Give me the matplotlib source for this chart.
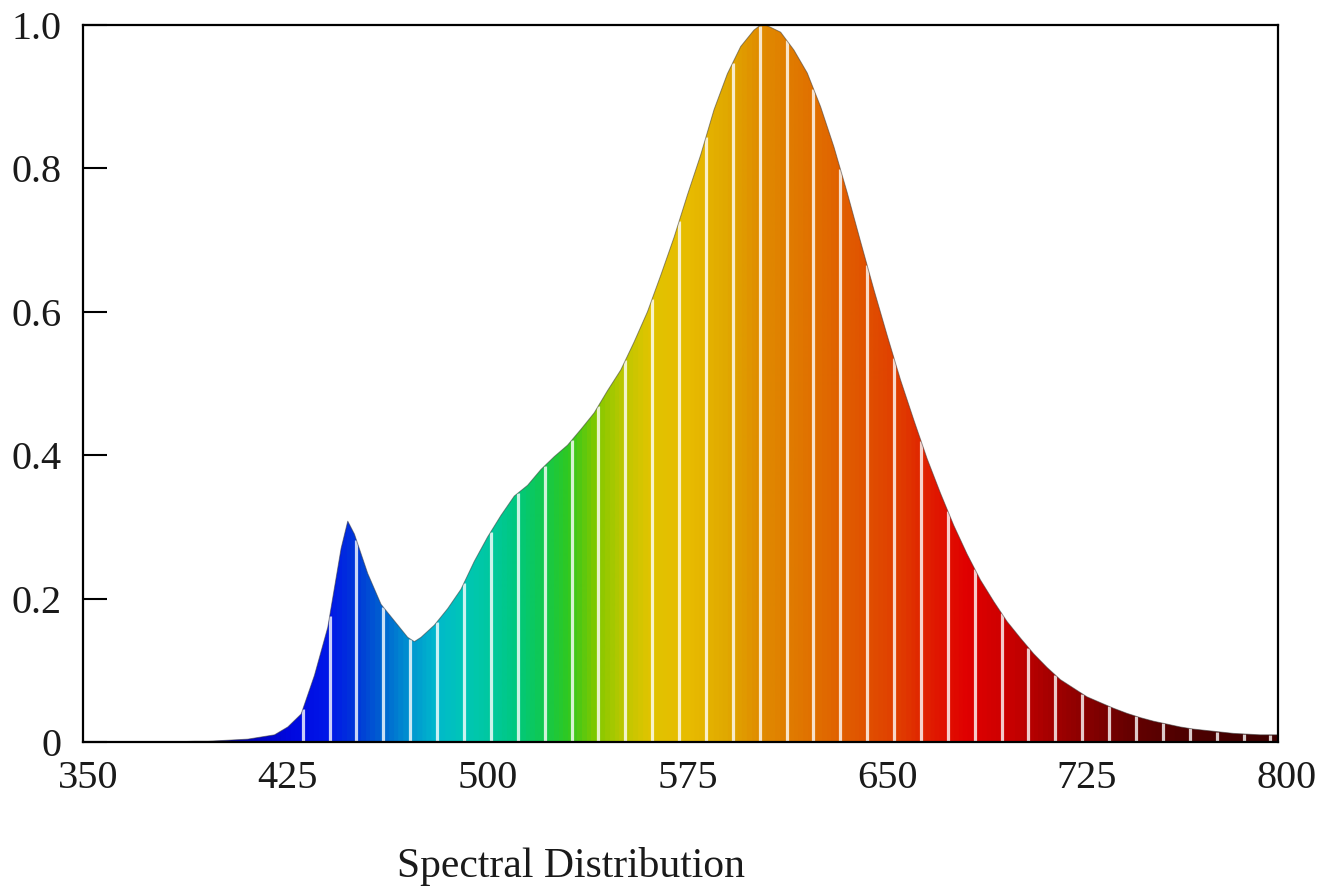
import numpy as np
import matplotlib
matplotlib.use("Agg")
import matplotlib.pyplot as plt
from matplotlib.colors import LinearSegmentedColormap
from matplotlib.patches import Polygon

# 1. DATA --------------------------------------------------------------
wavelength = [350, 360, 370, 380, 390, 395, 400, 405, 410, 415,
              420, 425, 430, 435, 440, 445, 447.5, 450, 455, 460,
              465, 470, 472.5, 475, 480, 485, 490, 495, 500, 505,
              510, 515, 520, 525, 530, 535, 540, 545, 550, 555,
              560, 565, 570, 575, 580, 585, 590, 595, 600, 602.5,
              605, 610, 615, 620, 625, 630, 635, 640, 645, 650,
              655, 660, 665, 670, 675, 680, 685, 690, 695, 700,
              705, 710, 715, 720, 725, 730, 735, 740, 745, 750,
              755, 760, 765, 770, 775, 780, 785, 790, 795, 796.5]
intensity = [0, 0, 0, 0, 0.001, 0.001, 0.002, 0.003, 0.004, 0.007,
             0.010, 0.021, 0.039, 0.093, 0.160, 0.270, 0.308, 0.290, 0.235, 0.192,
             0.169, 0.146, 0.140, 0.146, 0.163, 0.186, 0.213, 0.252, 0.286, 0.316,
             0.343, 0.358, 0.380, 0.398, 0.414, 0.436, 0.459, 0.490, 0.519, 0.558,
             0.600, 0.651, 0.704, 0.763, 0.819, 0.882, 0.932, 0.970, 0.993, 1.000,
             0.999, 0.990, 0.965, 0.933, 0.886, 0.830, 0.766, 0.698, 0.631, 0.567,
             0.505, 0.449, 0.395, 0.347, 0.302, 0.262, 0.226, 0.196, 0.168, 0.145,
             0.123, 0.104, 0.087, 0.075, 0.063, 0.055, 0.047, 0.040, 0.034, 0.029,
             0.025, 0.021, 0.018, 0.016, 0.014, 0.012, 0.011, 0.010, 0.010, 0.010]

x_ticks = [350, 425, 500, 575, 650, 725, 800]
y_ticks = [0, 0.2, 0.4, 0.6, 0.8, 1.0]
y_tick_labels = ["0", "0.2", "0.4", "0.6", "0.8", "1.0"]

# 2. STYLE -------------------------------------------------------------
X_MIN, X_MAX, X_EDGE = 348, 800, 796.7   # right frame sits a bit before 800
GAP_START, GAP_STEP = 430.6, 10.09       # pale separator lines
FONT = "Liberation Serif"
TEXT_COLOR = "#1a1a1a"

spectrum_stops = [
    (348, "#00007a"), (400, "#0000a0"), (425, "#0008e0"), (440, "#0018e8"),
    (450, "#0038d8"), (460, "#0064d0"), (470, "#0094d0"), (480, "#00b8cc"),
    (490, "#00c6b8"), (500, "#00c8a0"), (510, "#00c880"), (520, "#10c850"),
    (530, "#30c820"), (540, "#80c800"), (550, "#b8c800"), (560, "#e0c400"),
    (575, "#e8bc00"), (590, "#e0a800"), (600, "#e09000"), (610, "#e08000"),
    (625, "#e06c00"), (640, "#e05400"), (655, "#e03c00"), (668, "#e01800"),
    (680, "#e00000"), (695, "#cc0000"), (710, "#a80000"), (725, "#880000"),
    (740, "#680000"), (760, "#500000"), (780, "#440000"), (800, "#3c0000"),
]
stops = [((w - X_MIN) / (X_MAX - X_MIN), c) for w, c in spectrum_stops]
spectrum = LinearSegmentedColormap.from_list("spectrum", stops)

plt.rcParams["font.family"] = [FONT, "DejaVu Serif"]

# 3. PLOT --------------------------------------------------------------
fig = plt.figure(figsize=(13.37, 8.91), dpi=100)
ax = fig.add_axes([82.7 / 1337, 1 - 742 / 891, 1204.1 / 1337, 717 / 891])
ax.set_xlim(X_MIN, X_MAX)
ax.set_ylim(0, 1.0)

wl = np.array(wavelength)
val = np.array(intensity)

# rainbow gradient clipped by the spectrum outline
verts = np.column_stack([np.r_[wl[0], wl, wl[-1]], np.r_[0, val, 0]])
outline = Polygon(verts, closed=True, facecolor="none", edgecolor="none")
ax.add_patch(outline)
grad = np.linspace(0, 1, 1200).reshape(1, -1)
im = ax.imshow(grad, extent=[X_MIN, X_MAX, 0, 1], aspect="auto",
               cmap=spectrum, origin="lower", zorder=1)
im.set_clip_path(outline)

# pale separator lines
gaps = GAP_START + GAP_STEP * np.arange(37)
gaps = gaps[gaps < X_EDGE]
ax.vlines(gaps, 0, np.interp(gaps, wl, val), colors="white",
          lw=2.3, alpha=0.8, zorder=2)

# thin dark edge along the top
ax.plot(wl, val, color="#3a3a3a", lw=0.7, alpha=0.55, zorder=3)

# frame
for side in ["left", "top", "right", "bottom"]:
    ax.spines[side].set_linewidth(1.6)
    ax.spines[side].set_color("black")
    ax.spines[side].set_zorder(5)
ax.spines["right"].set_position(("data", X_EDGE))
ax.spines["top"].set_bounds(X_MIN, X_EDGE)
ax.spines["bottom"].set_bounds(X_MIN, X_EDGE)

ax.set_xticks(x_ticks)
ax.set_xticklabels([str(t) for t in x_ticks])
ax.set_yticks(y_ticks)
ax.set_yticklabels(y_tick_labels)
ax.tick_params(axis="x", length=0, pad=13, labelsize=29, labelcolor=TEXT_COLOR)
ax.tick_params(axis="y", direction="in", length=17, width=1.5, pad=15,
               labelsize=29, labelcolor=TEXT_COLOR, right=False)

fig.text(571 / 1337, 1 - 867 / 891, "Spectral Distribution", ha="center",
         va="center", fontsize=30, color=TEXT_COLOR)

fig.savefig("out.png", dpi=100)
print("saved out.png")
